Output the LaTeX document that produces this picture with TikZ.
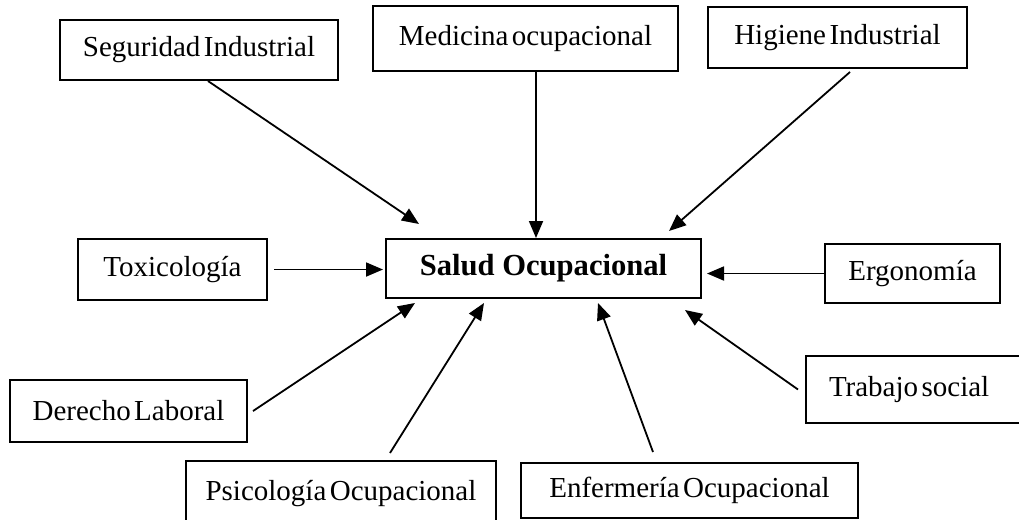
\documentclass[tikz,border=0pt]{standalone}
\usepackage{fontspec}
\setmainfont{Liberation Serif}
\usepackage{tikz}
\usetikzlibrary{arrows.meta, calc}
\newcommand{\tightwords}{\spaceskip=0.12em plus 0.05em\relax}
\tikzstyle{field} = [rectangle, draw=black, line width=1pt, inner sep=3pt, text centered, font=\fontsize{14.5}{17}\selectfont\tightwords]
\tikzstyle{core} = [field, font=\fontsize{15.3}{18}\selectfont\bfseries]
\tikzstyle{arrow} = [line width=0.9pt, -{Triangle[length=8.5pt, width=7pt]}]

\begin{document}
\begin{tikzpicture}[x=0.5pt, y=-0.5pt]
\useasboundingbox (0,0) rectangle (1019,520);
\node (salud) [core, minimum width=157.5pt, minimum height=29.5pt] at (543.5,268.5) {Salud Ocupacional};
\node (seg) [field, minimum width=139pt, minimum height=30pt] at (199,50) {Seguridad Industrial};
\node (med) [field, minimum width=152.5pt, minimum height=32.5pt] at (525.5,38.5) {Medicina ocupacional};
\node (hig) [field, minimum width=129.5pt, minimum height=30.5pt] at (837.5,37.5) {Higiene Industrial};
\node (tox) [field, minimum width=94.5pt, minimum height=30.5pt] at (172.5,269.5) {Toxicología};
\node (erg) [field, minimum width=87.5pt, minimum height=29.5pt] at (912.5,273.5) {Ergonomía};
\node (der) [field, minimum width=118.5pt, minimum height=31pt] at (128.5,411) {Derecho Laboral};
\node (tra) [field, anchor=west, text width=100pt, align=flush left, inner xsep=11.5pt, minimum height=33.5pt] at (805,389.5) {Trabajo social};
\node (psi) [field, anchor=north, minimum width=155pt, minimum height=33pt] at (341,460) {Psicología Ocupacional};
\node (enf) [field, minimum width=168.5pt, minimum height=27.5pt] at (689.5,490.5) {Enfermería Ocupacional};
% arrows into the centre box
\draw [arrow] ([xshift=4.5pt]seg.south) -- ($(salud.north west)+(34,-14)$);
\draw [arrow] ([xshift=5.25pt]med.south) -- ([xshift=5.25pt]med.south |- salud.north);
\draw [arrow] ([xshift=6.25pt,yshift=-1.5pt]hig.south) -- ($(salud.north east)+(-33,-7)$);
\draw [arrow] ([xshift=3pt]tox.east) -- ([xshift=-1pt]tox.east -| salud.west);
\draw [arrow] (erg.west) -- ([xshift=2.5pt]erg.west -| salud.east);
\draw [arrow] ([xshift=2.5pt]der.east) -- ($(salud.south west)+(30,4)$);
\draw [arrow] ($(psi.north)+(49,-7)$) -- ($(salud.south west)+(99,4)$);
\draw [arrow] ($(enf.north)+(-36.5,-10)$) -- ($(salud.south)+(54.5,4)$);
\draw [arrow] ([xshift=-3.5pt]tra.west) -- ($(salud.south east)+(-17,11)$);
\end{tikzpicture}
\end{document}
